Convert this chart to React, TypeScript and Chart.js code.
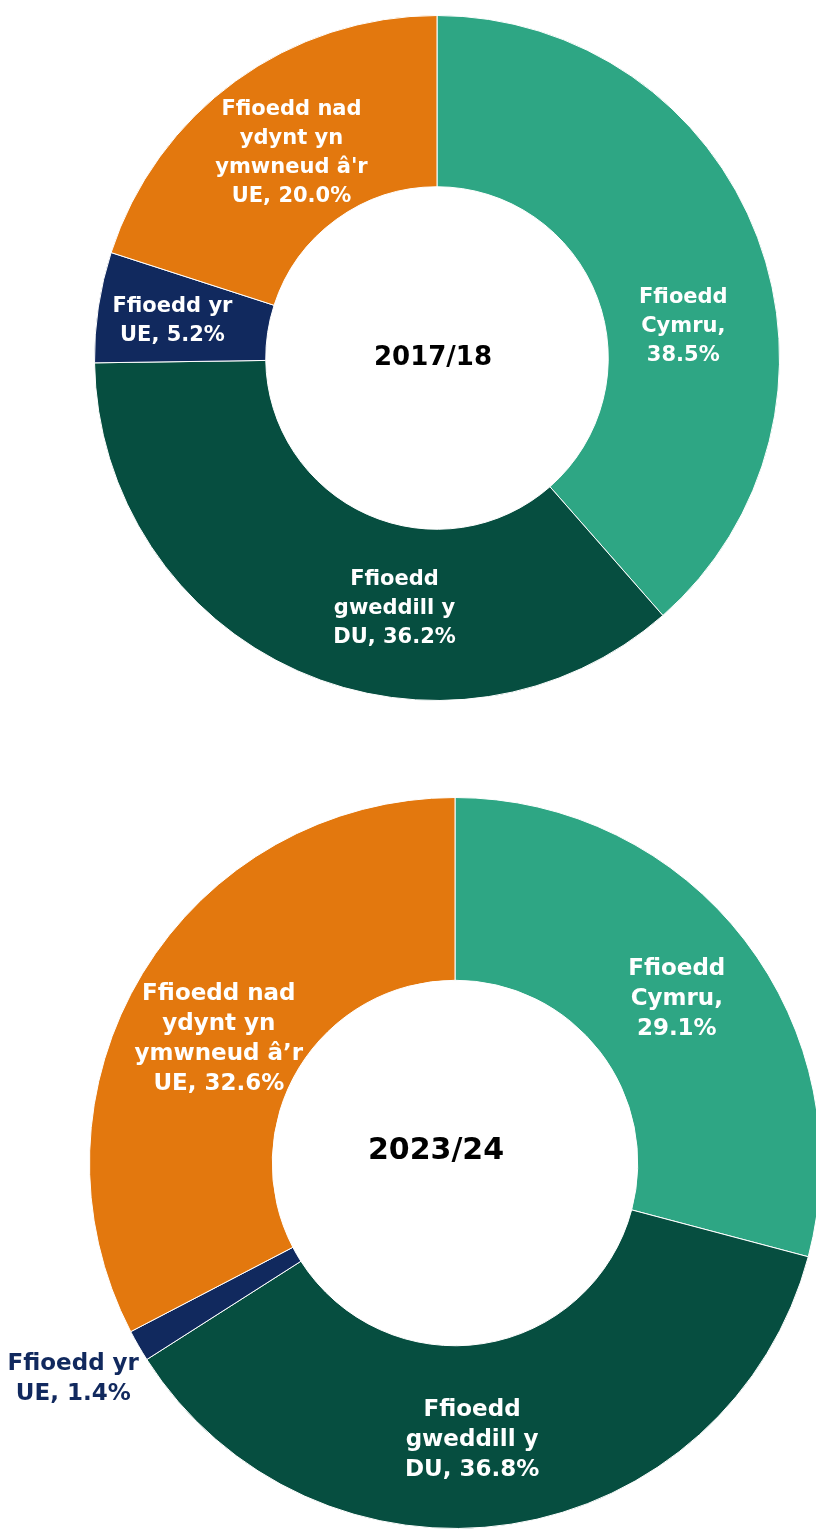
import React, { useEffect, useRef } from "react";
import { Chart, registerables } from "chart.js";

Chart.register(...registerables);

// ---- Data ----
const categories = [
  "Ffioedd Cymru",
  "Ffioedd gweddill y DU",
  "Ffioedd yr UE",
  "Ffioedd nad ydynt yn ymwneud â'r UE",
];
const values2017 = [38.5, 36.2, 5.2, 20.0];
const values2023 = [29.1, 36.8, 1.4, 32.6];
const year2017 = "2017/18";
const year2023 = "2023/24";

// label lines (the last line gets the percentage appended)
const lines2017 = [
  ["Ffioedd", "Cymru,", ""],
  ["Ffioedd", "gweddill y", "DU, "],
  ["Ffioedd yr", "UE, "],
  ["Ffioedd nad", "ydynt yn", "ymwneud â'r", "UE, "],
];
const lines2023 = [
  ["Ffioedd", "Cymru,", ""],
  ["Ffioedd", "gweddill y", "DU, "],
  ["Ffioedd yr", "UE, "],
  ["Ffioedd nad", "ydynt yn", "ymwneud â’r", "UE, "],
];

// ---- Styles ----
const colors = ["#2ea684", "#064e40", "#11295e", "#e3780e"];
// label placement within each arc: [fraction along angle, fraction across ring]
const place2017 = [
  [0.596, 0.45],
  [0.39, 0.485],
  [0.47, 0.56],
  [0.51, 0.47],
];
const place2023 = [
  [0.51, 0.51],
  [0.54, 0.52],
  [0.6, 1.4],
  [0.47, 0.46],
];
const labelColors2017 = ["#ffffff", "#ffffff", "#ffffff", "#ffffff"];
const labelColors2023 = ["#ffffff", "#ffffff", "#11295e", "#ffffff"];

type DonutProps = {
  values: number[];
  lines: string[][];
  place: number[][];
  labelColors: string[];
  centerText: string;
  canvasW: number;
  canvasH: number;
  padLeft: number;
  padRight: number;
  left: number;
  top: number;
  labelFont: number;
  lineHeight: number;
  centerFont: number;
  centerDx: number;
  centerDy: number;
};

function Donut(p: DonutProps) {
  const ref = useRef<HTMLCanvasElement | null>(null);
  useEffect(() => {
    if (!ref.current) return;
    const labelPlugin = {
      id: "sliceLabels",
      afterDatasetsDraw(chart: any) {
        const ctx = chart.ctx;
        const meta = chart.getDatasetMeta(0);
        ctx.save();
        ctx.textAlign = "center";
        ctx.textBaseline = "middle";
        meta.data.forEach((arc: any, i: number) => {
          const a = arc.getProps(
            ["x", "y", "startAngle", "endAngle", "innerRadius", "outerRadius"],
            true
          );
          const ang = a.startAngle + p.place[i][0] * (a.endAngle - a.startAngle);
          const r = a.innerRadius + p.place[i][1] * (a.outerRadius - a.innerRadius);
          const cx = a.x + Math.cos(ang) * r;
          const cy = a.y + Math.sin(ang) * r;
          const ls = p.lines[i].slice();
          ls[ls.length - 1] = ls[ls.length - 1] + p.values[i].toFixed(1) + "%";
          ctx.fillStyle = p.labelColors[i];
          ctx.font = `bold ${p.labelFont}px "DejaVu Sans", sans-serif`;
          const h = (ls.length - 1) * p.lineHeight;
          ls.forEach((t, k) => {
            ctx.fillText(t, cx, cy - h / 2 + k * p.lineHeight);
          });
        });
        // center text
        const a0 = meta.data[0].getProps(["x", "y"], true);
        ctx.fillStyle = "#000000";
        ctx.font = `bold ${p.centerFont}px "DejaVu Sans", sans-serif`;
        ctx.fillText(p.centerText, a0.x + p.centerDx, a0.y + p.centerDy);
        ctx.restore();
      },
    };
    const chart = new Chart(ref.current, {
      type: "doughnut",
      data: {
        labels: categories,
        datasets: [
          {
            data: p.values,
            backgroundColor: colors,
            borderColor: "#ffffff",
            borderWidth: 1,
          },
        ],
      },
      options: {
        responsive: false,
        animation: false,
        events: [],
        cutout: "50%",
        layout: {
          padding: { left: p.padLeft, right: p.padRight, top: 0, bottom: 0 },
        },
        plugins: {
          legend: { display: false },
          tooltip: { enabled: false },
          title: { display: false },
        },
      },
      plugins: [labelPlugin],
    });
    return () => chart.destroy();
  }, []);
  return (
    <canvas
      ref={ref}
      width={p.canvasW}
      height={p.canvasH}
      style={{
        position: "absolute",
        left: p.left,
        top: p.top,
        width: p.canvasW,
        height: p.canvasH,
      }}
    />
  );
}

export default function App() {
  return (
    <div
      style={{
        position: "absolute",
        left: 0,
        top: 0,
        width: 816,
        height: 1529,
        overflow: "hidden",
        background: "#ffffff",
      }}
    >
      <Donut
        values={values2017}
        lines={lines2017}
        place={place2017}
        labelColors={labelColors2017}
        centerText={year2017}
        canvasW={686}
        canvasH={686}
        padLeft={0}
        padRight={0}
        left={94}
        top={15}
        labelFont={21}
        lineHeight={29}
        centerFont={26}
        centerDx={-4}
        centerDy={0}
      />
      <Donut
        values={values2023}
        lines={lines2023}
        place={place2023}
        labelColors={labelColors2023}
        centerText={year2023}
        canvasW={830}
        canvasH={732}
        padLeft={89}
        padRight={9}
        left={0}
        top={797}
        labelFont={23}
        lineHeight={30}
        centerFont={30}
        centerDx={-19}
        centerDy={-12}
      />
    </div>
  );
}
